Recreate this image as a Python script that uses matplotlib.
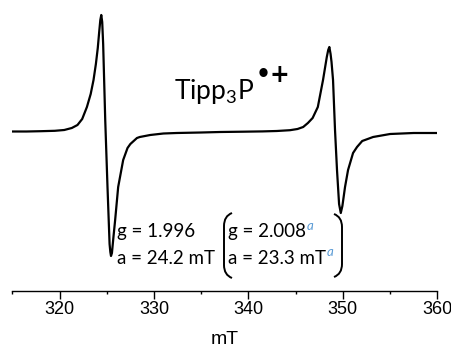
import matplotlib
matplotlib.use("Agg")
import matplotlib.pyplot as plt
from matplotlib.path import Path
from matplotlib.patches import PathPatch
from matplotlib.transforms import Affine2D
from matplotlib.ticker import MultipleLocator

# EPR spectrum (field in mT, signal in arbitrary units)
field_mT = [315.0, 316.5, 318.0, 319.5, 320.5, 321.3, 321.9, 322.4, 322.9, 323.3,
            323.6, 323.85, 324.05, 324.2, 324.32, 324.42, 324.52, 324.62, 324.84, 325.08,
            325.3, 325.38, 325.45, 325.55, 325.7, 325.89, 326.21, 326.74, 327.2, 327.5,
            328.2, 328.5, 329.6, 331.0, 332.4, 335.0, 337.0, 339.4, 341.5, 343.0,
            344.4, 345.2, 345.8, 346.3, 346.8, 347.35, 347.9, 348.3, 348.45, 348.57,
            348.7, 348.8, 348.96, 349.17, 349.38, 349.6, 349.78, 349.95, 350.23, 350.55,
            351.08, 351.5, 352.05, 353.2, 355.0, 357.5, 360.0]
signal = [0.5, 0.5, 0.8, 1.2, 2, 4, 7, 13, 25, 38,
          52, 68, 84, 100, 112, 117, 110, 88, 12, -55,
          -112, -120, -124, -121, -106, -88, -55, -28, -16, -12,
          -6, -5, -3, -1.5, -1, -0.5, 0, 0.3, 0.6, 1,
          1.8, 3, 5, 9, 14, 25, 52, 75, 82, 85,
          78, 70, 52, 2, -38, -72, -81, -74, -55, -38,
          -21, -15, -9, -5, -2, -1, -1]

x_ticks = [320, 330, 340, 350, 360]
species = r"Tipp$_{\mathregular{3}}$P"
charge = "•+"
exp_lines = ["g = 1.996", "a = 24.2 mT"]
calc_lines = ["g = 2.008", "a = 23.3 mT"]

W, H = 452, 349
plt.rcParams['mathtext.fontset'] = 'custom'
plt.rcParams['mathtext.rm'] = 'Lato'

fig = plt.figure(figsize=(W / 100, H / 100), dpi=100)
ax = fig.add_axes([12.3 / W, (H - 290.7) / H, 425 / W, 290.7 / H])
ax.plot(field_mT, signal, color='black', lw=1.6, solid_joinstyle='round')
ax.set_xlim(315, 360)
ax.set_ylim(-158.7, 132)

for s in ['left', 'right', 'top']:
    ax.spines[s].set_visible(False)
ax.spines['bottom'].set_linewidth(1.0)
ax.set_yticks([])
ax.set_xticks(x_ticks)
ax.xaxis.set_minor_locator(MultipleLocator(5))
ax.tick_params(axis='x', which='major', direction='out', length=5.5, width=1.0,
               labelsize=13, pad=2)
ax.tick_params(axis='x', which='minor', direction='out', length=2.5, width=1.0)
for lab in ax.get_xticklabels():
    lab.set_fontfamily('Liberation Sans')
ax.set_xlabel('mT', fontsize=14, family='Liberation Sans', labelpad=9)

# pixel coordinates of the reference image -> figure
px = Affine2D().scale(1 / W, -1 / H).translate(0, 1) + fig.transFigure

sp = fig.text(174, 99, species, transform=px, fontsize=19, family='Lato', va='baseline')

tfont = dict(fontsize=13.5, family='Lato', va='center', transform=px)
fig.text(117, 232, exp_lines[0], **tfont)
fig.text(117, 258, exp_lines[1], **tfont)
calc_txt = [fig.text(228, 232, calc_lines[0], **tfont),
            fig.text(228, 258, calc_lines[1], **tfont)]

fig.canvas.draw()
r = fig.canvas.get_renderer()
bb = sp.get_window_extent(r)
fig.text(bb.x1 / fig.dpi * 100 + 1, 82, charge, transform=px, fontsize=17,
         family='DejaVu Sans', weight='bold', va='baseline')
for t, yc in zip(calc_txt, [232, 258]):
    bb = t.get_window_extent(r)
    xr = bb.x1 / fig.dpi * 100
    fig.text(xr + 1, yc - 6, 'a', fontsize=9.5, family='Lato', style='italic',
             color='#5B9BD5', va='center', transform=px)

def bracket(x_out, x_in, top, bot):
    verts = [(x_in, top), (x_out, top + 3), (x_out, top + 13),
             (x_out, bot - 13), (x_out, bot - 3), (x_in, bot)]
    codes = [Path.MOVETO, Path.CURVE3, Path.CURVE3, Path.LINETO, Path.CURVE3, Path.CURVE3]
    fig.add_artist(PathPatch(Path(verts, codes), fill=False, lw=1.4,
                             edgecolor='black', transform=px))

bracket(224, 232, 213, 278)
bracket(342, 334, 214, 277)

fig.savefig('out.png', dpi=100)
